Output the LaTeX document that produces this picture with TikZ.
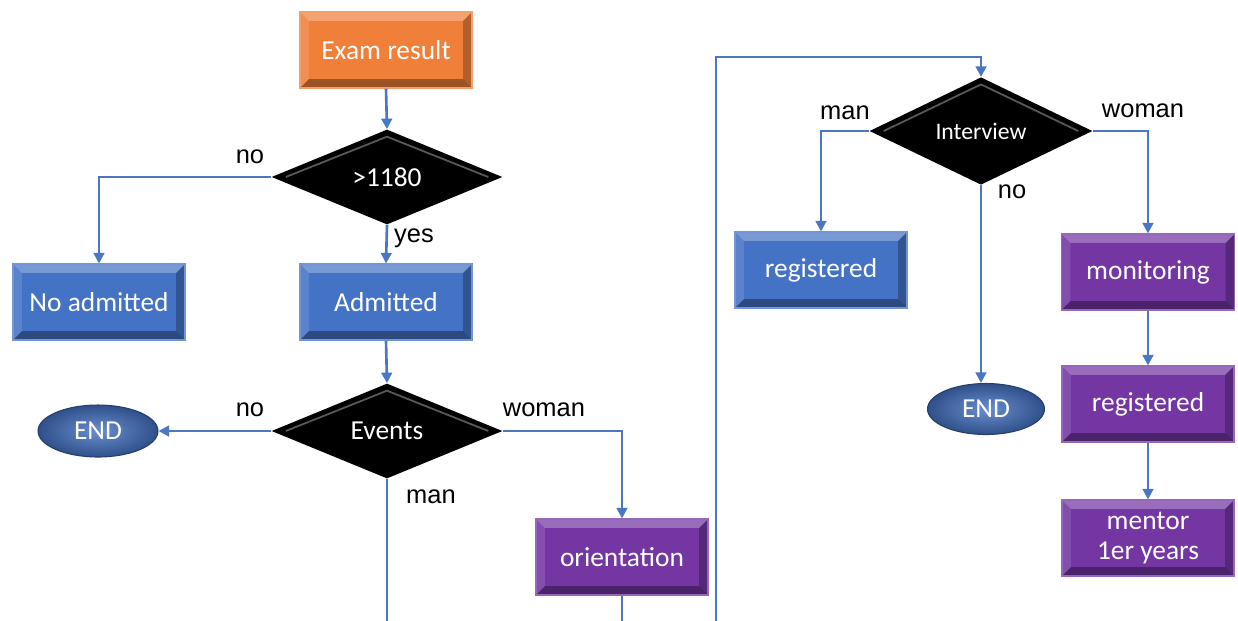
\documentclass[tikz,border=0pt]{standalone}
\usepackage{fontspec}
\setmainfont{Carlito}
\newfontfamily\labfont{Liberation Sans}
\usetikzlibrary{shapes.geometric,arrows.meta,calc}
\definecolor{cOrange}{HTML}{F07F3A}
\definecolor{cBlue}{HTML}{4472C4}
\definecolor{cPurple}{HTML}{7336A3}
\definecolor{cLine}{HTML}{4A76C6}
\tikzset{
  bevel/.style={path picture={
    \fill[white,opacity=.28] (path picture bounding box.north west) -- (path picture bounding box.north east)
      -- ([shift={(-5pt,-5pt)}]path picture bounding box.north east) -- ([shift={(5pt,-5pt)}]path picture bounding box.north west) -- cycle;
    \fill[white,opacity=.12] (path picture bounding box.north west) -- ([shift={(5pt,-5pt)}]path picture bounding box.north west)
      -- ([shift={(5pt,5pt)}]path picture bounding box.south west) -- (path picture bounding box.south west) -- cycle;
    \fill[black,opacity=.35] (path picture bounding box.south west) -- (path picture bounding box.south east)
      -- ([shift={(-5pt,5pt)}]path picture bounding box.south east) -- ([shift={(5pt,5pt)}]path picture bounding box.south west) -- cycle;
    \fill[black,opacity=.25] (path picture bounding box.north east) -- ([shift={(-5pt,-5pt)}]path picture bounding box.north east)
      -- ([shift={(-5pt,5pt)}]path picture bounding box.south east) -- (path picture bounding box.south east) -- cycle;
  }},
  procbox/.style={rectangle, minimum width=3.44cm, minimum height=1.52cm, inner sep=0pt,
    text=white, font=\fontsize{15.6}{17.6}\selectfont, align=center, bevel, draw=#1!75!white, line width=0.6pt, fill=#1},
  decision/.style={diamond, minimum width=4.62cm, minimum height=1.9cm, inner sep=0pt, fill=black,
    text=white, font=\fontsize{15.6}{17}\selectfont,
    path picture={
      \draw[white,opacity=.35,line width=1pt] ([xshift=8pt]path picture bounding box.west) -- ([yshift=-4pt]path picture bounding box.north) -- ([xshift=-8pt]path picture bounding box.east);
    }},
  endnode/.style={ellipse, minimum width=2.4cm, minimum height=1.04cm, inner sep=0pt,
    inner color=cBlue!80!white, outer color=cBlue!70!black, draw=cBlue!55!black, line width=0.6pt,
    text=white, font=\fontsize{15.6}{17}\selectfont},
  conn/.style={draw=cLine, line width=1.5pt},
  arr/.style={conn, -{Triangle[length=6pt,width=6pt]}},
  lab/.style={font=\labfont\fontsize{14.5}{15}\selectfont, text=black, inner sep=0pt}
}
\begin{document}
\begin{tikzpicture}[x=0.02cm,y=-0.02cm]
\useasboundingbox (0,0) rectangle (1238,620);
\clip (0,0) rectangle (1238,620);
% nodes
\node[procbox=cOrange] (exam) at (386,50) {Exam result};
\node[decision] (d1) at (387,177) {>1180};
\node[procbox=cBlue] (noadm) at (99,302) {No admitted};
\node[procbox=cBlue] (adm) at (386,302) {Admitted};
\node[decision] (ev) at (387,431) {Events};
\node[endnode] (end1) at (98,431) {END};
\node[procbox=cPurple] (orient) at (622,557) {orientation};
\node[decision, minimum width=4.46cm, minimum height=1.8cm, font=\fontsize{13.5}{14}\selectfont] (int) at (981,131) {Interview};
\node[procbox=cBlue] (reg1) at (821,270) {registered};
\node[procbox=cPurple, minimum width=3.46cm] (mon) at (1148,272) {monitoring};
\node[endnode, minimum width=2.34cm, minimum height=1.02cm] (end2) at (986,409) {END};
\node[procbox=cPurple] (reg2) at (1148,404) {registered};
\node[procbox=cPurple] (ment) at (1148,538) {mentor\\1er years};
% free ends
\coordinate (evout) at (387,625);
\coordinate (orout) at (622,625);
\coordinate (loopstart) at (716,625);
\coordinate (looptop) at (int.north |- 0,57);
% connectors
\draw[arr] (exam.south) -- (d1.north);
\draw[arr] (d1.west) -| (noadm.north);
\draw[arr] (d1.south) -- (adm.north);
\draw[arr] (adm.south) -- (ev.north);
\draw[arr] (ev.west) -- (end1.east);
\draw[arr] (ev.east) -| (orient.north);
\draw[conn] (ev.south) -- (evout);
\draw[conn] (orient.south) -- (orout);
\draw[arr] (loopstart) |- (looptop) -- (int.north);
\draw[arr] (int.west) -| (reg1.north);
\draw[arr] (int.east) -| (mon.north);
\draw[arr] (int.south) -- (int.south |- end2.north);
\draw[arr] (mon.south) -- (reg2.north);
\draw[arr] (reg2.south) -- (ment.north);
% labels
\node[lab] (l1) at (250,157) {no};
\node[lab] (l2) at (414,238) {yes};
\node[lab] (l3) at (250,410) {no};
\node[lab] (l4) at (544,410) {woman};
\node[lab] (l5) at (431,497) {man};
\node[lab] (l6) at (845,113) {man};
\node[lab] (l7) at (1143,111) {woman};
\node[lab] (l8) at (1012,192) {no};
\end{tikzpicture}
\end{document}
